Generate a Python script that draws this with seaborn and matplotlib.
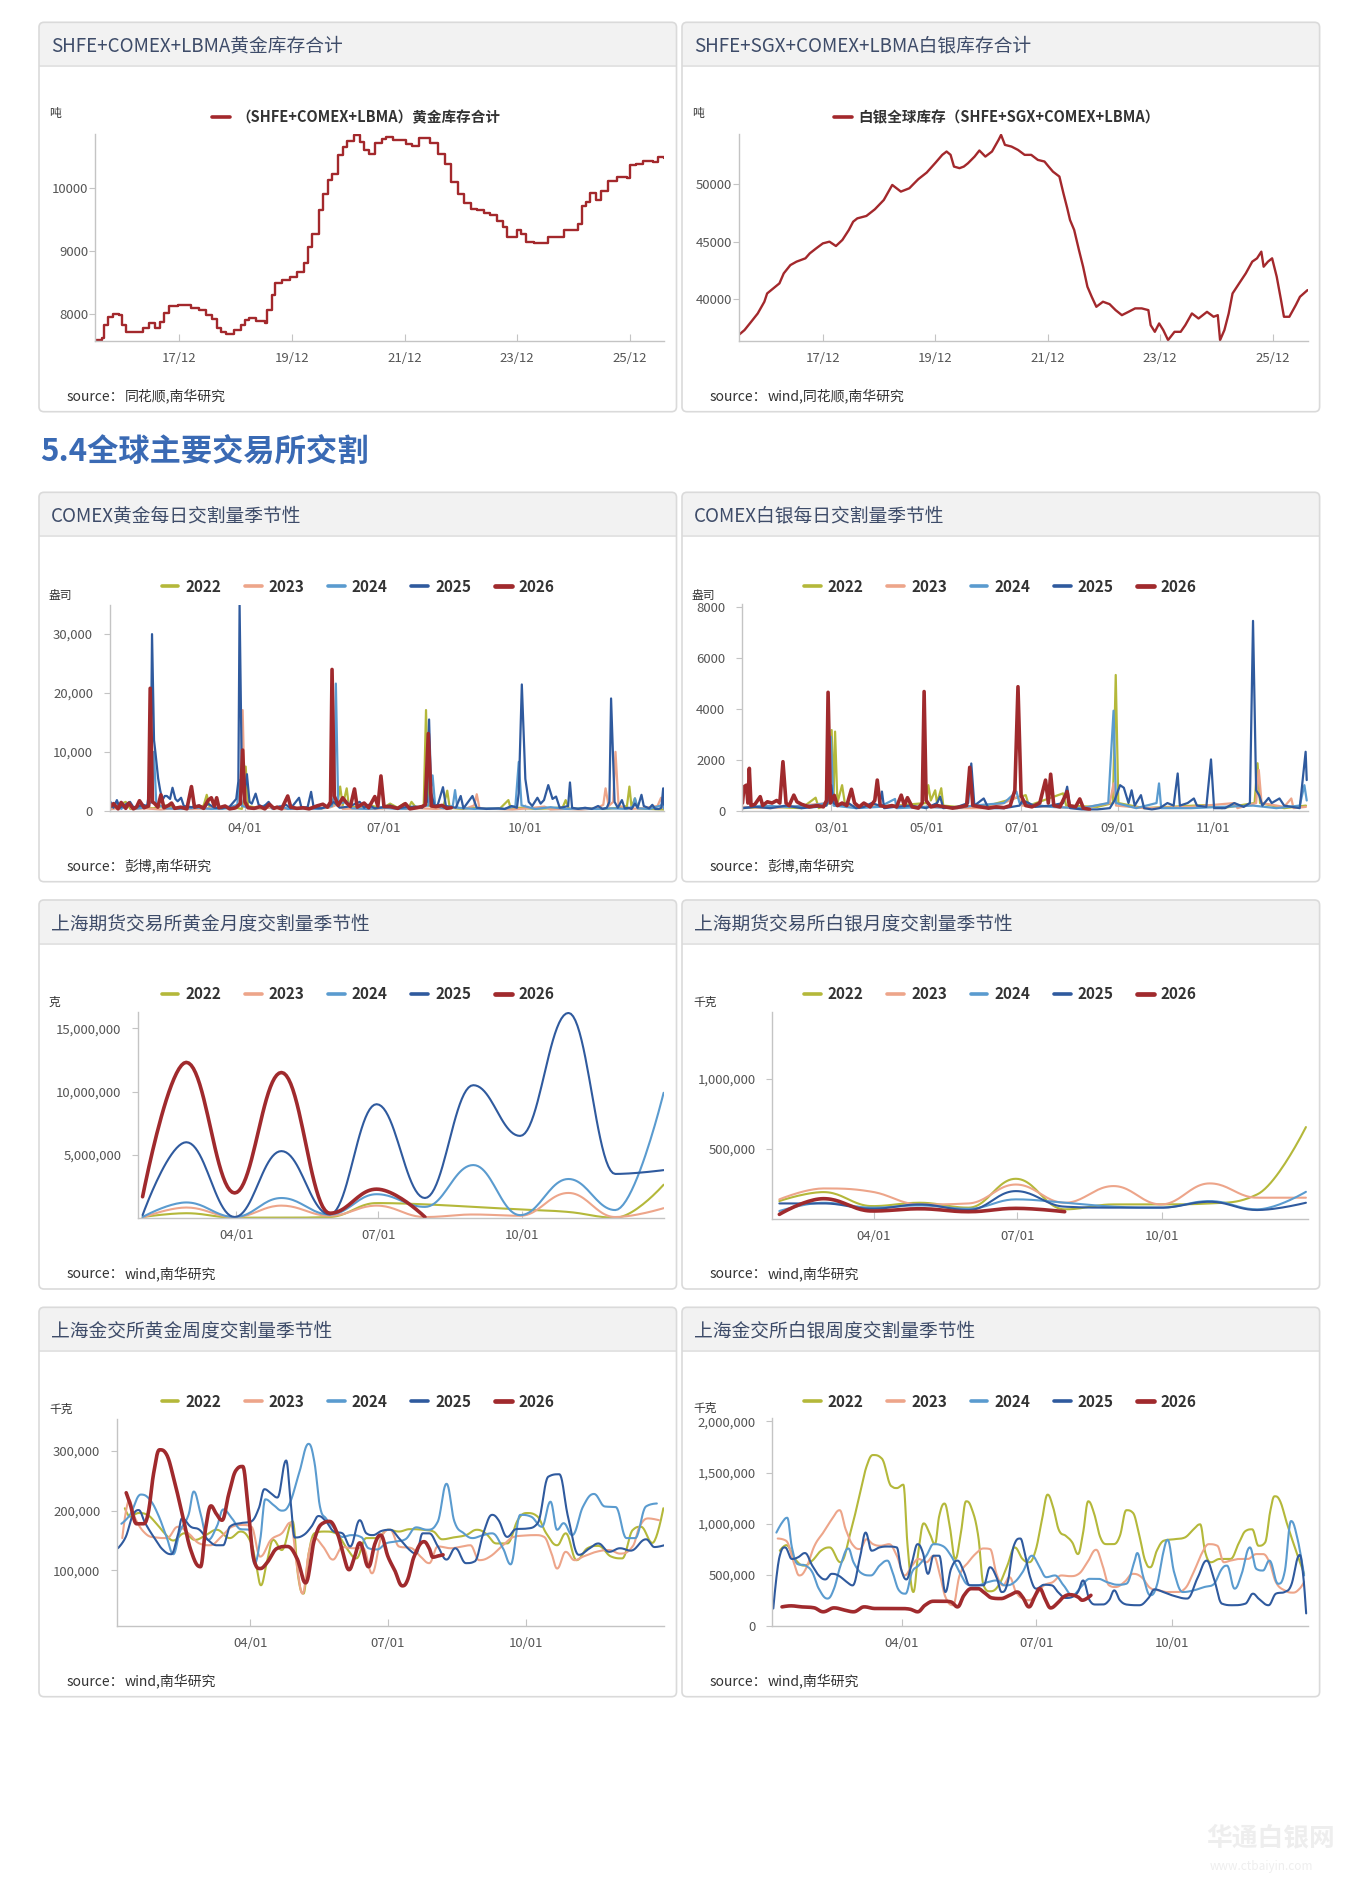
# Gold / silver inventory and exchange delivery seasonality dashboard

import numpy as np
import pandas as pd
import matplotlib
matplotlib.use("Agg")
import matplotlib.pyplot as plt
import matplotlib.dates as mdates
import seaborn as sns
from matplotlib.patches import FancyBboxPatch, Rectangle
from matplotlib.lines import Line2D
from matplotlib.text import Annotation
from matplotlib.ticker import FuncFormatter
from matplotlib.transforms import IdentityTransform


# ---------------- data ----------------

# SHFE+COMEX+LBMA gold stock (tonnes), weekly steps
gold_stock = [
    ("2016-06-06", 7580), ("2016-07-18", 7620), ("2016-08-01", 7820), ("2016-08-28", 7950),
    ("2016-09-26", 8000), ("2016-11-08", 7980), ("2016-11-27", 7820), ("2016-12-19", 7710),
    ("2017-02-15", 7710), ("2017-04-10", 7770), ("2017-05-22", 7850), ("2017-06-26", 7770),
    ("2017-08-01", 7870), ("2017-08-24", 8015), ("2017-09-27", 8120), ("2017-11-22", 8135),
    ("2018-02-15", 8085), ("2018-04-11", 8055), ("2018-05-23", 7980), ("2018-07-04", 7910),
    ("2018-08-02", 7770), ("2018-08-30", 7700), ("2018-10-03", 7670), ("2018-11-23", 7740),
    ("2019-01-05", 7820), ("2019-02-02", 7900), ("2019-03-01", 7925), ("2019-04-12", 7880),
    ("2019-06-13", 7855), ("2019-06-27", 8060), ("2019-07-25", 8295), ("2019-08-17", 8480),
    ("2019-09-29", 8530), ("2019-11-18", 8585), ("2020-01-05", 8665), ("2020-02-16", 8800),
    ("2020-03-15", 9060), ("2020-04-12", 9270), ("2020-05-24", 9640), ("2020-06-22", 9905),
    ("2020-07-20", 10115), ("2020-08-17", 10220), ("2020-09-24", 10510), ("2020-10-27", 10645),
    ("2020-11-25", 10740), ("2021-01-06", 10830), ("2021-02-17", 10720), ("2021-03-16", 10590),
    ("2021-04-13", 10540), ("2021-05-25", 10700), ("2021-07-06", 10775), ("2021-08-04", 10800),
    ("2021-09-16", 10760), ("2021-10-28", 10750), ("2021-12-09", 10685), ("2022-01-21", 10660),
    ("2022-03-02", 10790), ("2022-04-08", 10790), ("2022-05-12", 10700), ("2022-07-07", 10540),
    ("2022-08-19", 10380), ("2022-09-30", 10090), ("2022-11-12", 9905), ("2022-12-24", 9760),
    ("2023-02-05", 9665), ("2023-03-17", 9640), ("2023-04-29", 9590), ("2023-06-10", 9560),
    ("2023-07-22", 9470), ("2023-09-03", 9375), ("2023-09-25", 9210), ("2023-11-13", 9210),
    ("2023-11-27", 9325), ("2023-12-25", 9270), ("2024-01-28", 9140), ("2024-03-18", 9115),
    ("2024-05-13", 9115), ("2024-06-16", 9220), ("2024-09-18", 9220), ("2024-10-02", 9325),
    ("2024-11-28", 9325), ("2024-12-26", 9420), ("2025-01-23", 9705), ("2025-02-20", 9775),
    ("2025-03-19", 9915), ("2025-04-22", 9800), ("2025-05-28", 9945), ("2025-07-09", 10105),
    ("2025-09-05", 10170), ("2025-11-14", 10145), ("2025-11-28", 10355), ("2026-01-10", 10380),
    ("2026-02-21", 10420), ("2026-05-01", 10405), ("2026-05-29", 10485), ("2026-07-10", 10475),
]

# SHFE+SGX+COMEX+LBMA silver stock (tonnes)
silver_stock = [
    ("2016-06-01", 36860), ("2016-07-10", 37300), ("2016-08-22", 38020), ("2016-10-04", 38750),
    ("2016-11-16", 39770), ("2016-12-04", 40490), ("2017-02-22", 41370), ("2017-03-22", 42240),
    ("2017-05-04", 42960), ("2017-06-13", 43260), ("2017-08-10", 43550), ("2017-09-07", 43980),
    ("2017-10-19", 44420), ("2017-12-01", 44850), ("2018-01-13", 45000), ("2018-02-24", 44620),
    ("2018-04-07", 45150), ("2018-05-19", 46020), ("2018-06-16", 46740), ("2018-07-13", 47030),
    ("2018-09-10", 47240), ("2018-11-04", 47820), ("2019-01-01", 48630), ("2019-02-25", 49940),
    ("2019-04-22", 49360), ("2019-06-16", 49650), ("2019-08-13", 50440), ("2019-10-07", 51020),
    ("2019-12-04", 51890), ("2020-01-16", 52560), ("2020-02-13", 52850), ("2020-03-10", 52560),
    ("2020-04-01", 51540), ("2020-05-07", 51400), ("2020-06-04", 51540), ("2020-07-01", 51830),
    ("2020-08-13", 52410), ("2020-09-13", 52940), ("2020-10-22", 52410), ("2020-12-04", 52850),
    ("2021-01-16", 53870), ("2021-02-01", 54300), ("2021-02-26", 53430), ("2021-04-10", 53280),
    ("2021-05-22", 52990), ("2021-07-04", 52560), ("2021-08-16", 52560), ("2021-09-28", 52120),
    ("2021-11-10", 51980), ("2021-12-07", 51540), ("2022-01-04", 51100), ("2022-02-15", 50670),
    ("2022-03-13", 49220), ("2022-04-07", 47910), ("2022-04-25", 46890), ("2022-05-22", 46020),
    ("2022-06-22", 44270), ("2022-07-19", 42820), ("2022-08-16", 41080), ("2022-09-13", 40200),
    ("2022-10-13", 39330), ("2022-11-25", 39770), ("2023-01-07", 39560), ("2023-02-15", 39040),
    ("2023-03-28", 38600), ("2023-05-10", 38890), ("2023-06-22", 39190), ("2023-08-04", 39190),
    ("2023-09-16", 39040), ("2023-10-01", 37730), ("2023-10-28", 37150), ("2023-11-25", 37880),
    ("2023-12-22", 37300), ("2024-01-22", 36430), ("2024-03-04", 37150), ("2024-04-13", 37150),
    ("2024-05-13", 37730), ("2024-06-25", 38750), ("2024-08-07", 38310), ("2024-10-01", 38890),
    ("2024-11-13", 38460), ("2024-12-10", 38600), ("2024-12-25", 36430), ("2025-01-22", 37300),
    ("2025-02-19", 38750), ("2025-03-16", 40490), ("2025-04-28", 41370), ("2025-06-10", 42240),
    ("2025-07-22", 43260), ("2025-08-22", 43550), ("2025-09-19", 44130), ("2025-10-04", 42820),
    ("2025-11-01", 43260), ("2025-11-28", 43550), ("2025-12-28", 41950), ("2026-01-25", 39910),
    ("2026-02-13", 38460), ("2026-03-20", 38460), ("2026-05-01", 39480), ("2026-05-28", 40200),
    ("2026-07-16", 40780),
]

years = ["2022", "2023", "2024", "2025", "2026"]

# COMEX gold daily deliveries (day of year, contracts)
comex_gold_2022 = [(1, 300), (6, 800), (12, 1500), (15, 300), (22, 600), (30, 400), (38, 900), (45, 300),
                   (52, 600), (60, 500), (63, 900), (65, 2700), (67, 500), (75, 400), (82, 600), (88, 300),
                   (89.5, 2000), (90.5, 7500), (92, 800), (100, 400), (110, 600), (120, 300), (130, 500),
                   (140, 400), (148, 800), (151, 2000), (152.3, 4100), (154, 900), (156.6, 3800), (158, 800),
                   (165, 500), (172, 900), (180, 400), (185, 1200), (190, 500), (194, 1200), (197, 400),
                   (199, 1500), (202, 500), (207, 900), (208.5, 17100), (210, 900), (215, 500), (220, 800),
                   (222.4, 3400), (224, 500), (232, 300), (240, 500), (250, 300), (257, 400), (262.4, 1800),
                   (264, 300), (270, 500), (280, 300), (290, 400), (298, 600), (299.9, 1800), (302, 300),
                   (315, 400), (325, 300), (335, 500), (340, 800), (341.6, 4100), (343, 600), (345.2, 2100),
                   (347, 400), (355, 300), (364, 200)]
comex_gold_2023 = [(1, 200), (8, 500), (14, 1300), (16, 300), (25, 400), (35, 200), (45, 500), (55, 300),
                   (65, 400), (75, 600), (83, 300), (87, 1500), (88.5, 17100), (90, 800), (95, 300), (105, 500),
                   (115, 300), (125, 400), (135, 300), (145, 500), (152, 1200), (154, 300), (165, 400),
                   (175, 300), (185, 500), (195, 300), (205, 400), (215, 300), (225, 500), (235, 400),
                   (240, 900), (241.7, 2800), (243.5, 400), (255, 300), (265, 200), (275, 400), (286, 700),
                   (290, 200), (300, 300), (310, 200), (320, 400), (324.5, 1000), (326, 3800), (328, 800),
                   (331, 1500), (332.5, 10000), (334.5, 900), (340, 300), (350, 400), (360, 800),
                   (362.3, 2200), (364, 400)]
comex_gold_2024 = [(1, 300), (6, 1500), (9, 300), (14, 1200), (17, 300), (24, 500), (29, 1500), (30.4, 10000),
                   (32, 1200), (38, 400), (48, 300), (58, 500), (68, 300), (78, 400), (85, 1000), (86.2, 5200),
                   (88, 800), (96, 300), (105.5, 1100), (108, 300), (113, 800), (118, 300), (128, 400),
                   (138, 300), (147, 800), (148.5, 3000), (149.5, 21600), (151, 1200), (157, 1500), (160, 400),
                   (170, 300), (180, 500), (190, 300), (200, 400), (210, 900), (212.8, 6000), (214.5, 800),
                   (220, 400), (226, 800), (227.5, 3500), (229, 500), (240, 300), (250, 400), (260, 300),
                   (267, 800), (269.2, 8300), (271, 900), (280, 300), (290, 600), (300, 300), (310, 400),
                   (320, 300), (330, 400), (340, 300), (344, 700), (345.2, 2100), (347, 400), (355, 300),
                   (363.5, 1000), (364.5, 300)]
comex_gold_2025 = [(1, 800), (2, 1500), (4, 500), (6.2, 1800), (8, 500), (11, 900), (14.8, 1500), (17, 600),
                   (20, 700), (23.3, 1000), (26, 800), (28.3, 5000), (29.2, 30000), (30.5, 12000),
                   (31.5, 9700), (33.2, 5500), (34.5, 3500), (36, 1800), (37.5, 2500), (38.9, 2500),
                   (41, 2000), (42.6, 3900), (44.5, 2000), (46, 1600), (48.2, 2200), (50, 800), (55, 600),
                   (60.1, 900), (63, 400), (65.8, 1200), (70, 500), (75, 400), (80, 700), (84.3, 2000),
                   (85.7, 5000), (86.5, 34900), (88, 5000), (89.5, 2500), (91.3, 6200), (93, 1500),
                   (94.5, 1200), (97, 2900), (99, 1000), (102, 600), (105.5, 1500), (108, 500), (111.2, 500),
                   (114, 700), (116.9, 1000), (120, 400), (125.4, 2200), (127, 500), (131, 600),
                   (133.3, 3200), (135, 500), (140, 400), (145.2, 800), (148.1, 1500), (152, 500), (158, 700),
                   (165.1, 1500), (168, 500), (170.8, 1000), (175, 400), (180, 600), (185, 900), (190, 400),
                   (195, 600), (202, 700), (206, 500), (209.1, 1500), (210.5, 15500), (211.9, 3000),
                   (214, 800), (216.2, 1000), (219.6, 4000), (221.5, 800), (228, 500), (231.2, 2500),
                   (233, 400), (238.9, 2500), (241.7, 500), (248, 300), (255.9, 400), (260, 300),
                   (264.4, 800), (268, 500), (269.2, 3000), (271.2, 21450), (273.5, 5400), (275.7, 1500),
                   (278, 800), (281.4, 2200), (283.5, 1200), (285.7, 1800), (288.5, 4350), (291.3, 2000),
                   (293.6, 2400), (296, 500), (298.4, 600), (301.5, 800), (302.7, 4800), (304.1, 500),
                   (308, 300), (312.6, 500), (317, 300), (321.1, 800), (324, 300), (326.8, 500),
                   (328.5, 1500), (329.6, 19070), (331.9, 1500), (334, 500), (336.7, 1800), (338.5, 400),
                   (341, 500), (343, 300), (345.2, 1200), (347, 500), (349.5, 2700), (351, 800),
                   (354.5, 400), (356.6, 1000), (358.5, 300), (360.9, 300), (362.5, 500), (363.7, 3800),
                   (364.3, 1000)]
comex_gold_2026 = [(1, 500), (4, 1200), (7, 300), (9, 1400), (12, 400), (14, 1300), (17, 300), (19, 600),
                   (21, 1700), (24, 500), (26, 700), (27, 800), (28, 20800), (29.5, 1500), (31, 1200),
                   (33, 600), (35, 2700), (37, 500), (40, 900), (42, 1300), (44, 400), (48, 600), (52, 300),
                   (55, 4100), (57, 600), (60, 800), (63, 400), (66, 1800), (68, 2200), (70, 800),
                   (71.5, 2200), (73, 500), (77, 800), (80, 300), (84, 500), (87, 1200), (88.5, 10300),
                   (90, 1500), (92, 500), (96, 400), (100, 700), (103, 300), (106, 1100), (109, 400),
                   (111, 600), (114, 300), (118, 2500), (120, 600), (124, 400), (128, 500), (132, 300),
                   (137, 800), (141, 1100), (144, 600), (146, 1500), (147, 24000), (148.5, 2500), (151, 900),
                   (154, 2200), (156.6, 1300), (159, 700), (161.7, 3700), (163.5, 600), (166, 1000),
                   (168, 1300), (171, 500), (175, 2400), (177, 800), (179, 5900), (181, 700), (185, 700),
                   (190, 400), (195, 1200), (198, 300), (202, 500), (206, 700), (208, 1000), (210, 13100),
                   (212, 800), (215, 700), (219, 900), (222, 400), (225, 500)]

# COMEX silver daily deliveries (day of year, contracts)
comex_silver_2022 = [(2, 100), (20, 150), (40, 100), (49, 510), (51, 100), (58, 300), (59.3, 3160), (60.5, 400),
                     (61.5, 3100), (63, 300), (66, 1000), (68, 200), (80, 150), (100, 200), (120, 300),
                     (121.4, 1000), (123, 400), (125.8, 800), (127, 300), (129.7, 880), (131, 200), (140, 150),
                     (160, 200), (184, 610), (186, 200), (208, 680), (210, 200), (230, 150), (240, 300),
                     (241.8, 5320), (243.5, 300), (260, 100), (299, 220), (310, 100), (331, 300),
                     (332.9, 1860), (334.5, 300), (350, 100), (364, 200)]
comex_silver_2023 = [(2, 150), (20, 100), (40, 200), (57, 300), (59, 1000), (61, 200), (80, 150), (100, 200),
                     (120, 150), (140, 100), (157, 100), (170, 300), (179, 550), (182, 200), (200, 150),
                     (220, 100), (238, 300), (240.4, 1070), (242, 200), (260, 100), (290, 150), (318, 300),
                     (320, 100), (332, 300), (333.7, 1600), (335.5, 300), (350, 150), (354.6, 480),
                     (356, 100), (364, 150)]
comex_silver_2024 = [(2, 100), (15, 200), (30, 150), (45, 200), (57, 300), (58.8, 2900), (60.5, 200), (75, 100),
                     (90, 150), (100, 460), (101, 100), (120, 150), (140, 100), (150, 200), (170, 300),
                     (178, 750), (180, 300), (200, 150), (220, 100), (237, 300), (240.4, 3920), (242, 300),
                     (255, 100), (268, 300), (269.6, 1070), (271, 100), (290, 100), (310, 150), (330, 200),
                     (345, 100), (360, 200), (363, 1000), (364.5, 400)]
comex_silver_2025 = [(2, 100), (10, 150), (20, 100), (30, 200), (40, 100), (50, 150), (56, 200), (58, 900),
                     (59, 1000), (60.5, 300), (63, 200), (70, 300), (75, 100), (80, 150), (85, 300), (90, 200),
                     (91.6, 750), (93, 100), (100, 150), (110, 200), (120, 100), (127, 300), (129, 550),
                     (131, 100), (140, 150), (147, 300), (149, 1850), (151, 200), (157, 480), (160, 100),
                     (170, 100), (180, 200), (182, 400), (186, 300), (190, 150), (200, 200), (208, 300),
                     (210.6, 940), (212.5, 100), (220, 50), (230, 50), (238, 100), (241, 400), (244.6, 1000),
                     (247, 900), (250, 300), (252, 800), (254, 200), (258, 610), (260, 100), (265, 50),
                     (270, 100), (275, 300), (279, 200), (281.6, 1460), (283, 200), (288, 300), (292, 480),
                     (294, 200), (300, 150), (303, 2010), (305, 100), (312, 100), (318, 300), (324, 150),
                     (328, 300), (330, 7440), (332, 800), (334, 600), (336, 200), (340, 500), (342, 300),
                     (347, 480), (350, 200), (355, 150), (360, 100), (363.8, 2310), (364.5, 1200)]
comex_silver_2026 = [(2, 300), (3, 940), (4.5, 1000), (5.5, 300), (6.4, 1660), (7.5, 200), (10, 250),
                     (13.4, 550), (15, 200), (18, 350), (21, 300), (24, 400), (26, 300), (28, 1920), (30, 300),
                     (32, 200), (35, 610), (37, 350), (40, 250), (45, 150), (50, 200), (54, 150), (56, 400),
                     (57, 4640), (58.5, 300), (61, 600), (63, 200), (66, 300), (69, 200), (72, 840), (74, 300),
                     (77, 150), (80, 300), (84, 150), (87, 400), (88.6, 1200), (90.5, 200), (94, 150),
                     (98, 200), (101, 150), (104, 610), (106, 200), (108, 510), (111, 150), (115, 100),
                     (117.5, 300), (118.7, 4670), (120, 400), (123, 150), (127, 200), (132, 150), (137, 100),
                     (142, 150), (146, 200), (148, 1700), (150, 200), (155, 150), (160, 100), (165, 150),
                     (170, 120), (174, 200), (177, 800), (179, 4860), (181, 600), (184, 200), (188, 150),
                     (193, 300), (196.7, 1200), (198.5, 300), (200, 1430), (202, 200), (206, 150),
                     (210.6, 750), (212, 200), (216, 150), (218.7, 460), (221, 100), (225, 50)]

# SHFE monthly deliveries, month-end day of year
month_days = [30, 58, 89, 119, 150, 180, 211, 242, 272, 303, 333, 364]
shfe_gold_2022 = [100000, 400000, 50000, 50000, 100000, 1200000, 1100000, 900000, 700000, 500000, 50000, 2650000]
shfe_gold_2023 = [50000, 850000, 100000, 1000000, 200000, 1000000, 100000, 300000, 200000, 2000000, 100000, 800000]
shfe_gold_2024 = [100000, 1250000, 100000, 1600000, 300000, 1900000, 900000, 4200000, 250000, 3100000, 650000, 9900000]
shfe_gold_2025 = [250000, 6000000, 100000, 5300000, 300000, 9000000, 1600000, 10500000, 6500000, 16200000, 3500000, 3800000]
shfe_gold_2026 = [1700000, 12300000, 2000000, 11500000, 400000, 2300000, 100000]

shfe_silver_2022 = [128000, 192000, 92000, 116000, 81000, 287000, 69000, 104000, 104000, 111000, 175000, 656000]
shfe_silver_2023 = [140000, 218000, 194000, 104000, 111000, 246000, 116000, 235000, 104000, 254000, 152000, 152000]
shfe_silver_2024 = [57000, 116000, 81000, 97000, 73000, 140000, 116000, 88000, 81000, 128000, 69000, 194000]
shfe_silver_2025 = [111000, 111000, 73000, 104000, 64000, 199000, 88000, 81000, 81000, 123000, 64000, 116000]
shfe_silver_2026 = [33000, 145000, 57000, 73000, 52000, 76000, 52000]

# SGE weekly deliveries (day of year, kg)
sge_gold_2022 = [(6.9, 204000), (10.3, 190000), (16, 196000), (21.8, 193000), (27.6, 179000), (33.3, 162000),
                 (39, 150000), (46.3, 162000), (53.4, 151000), (60.6, 159000), (67.8, 168000), (76.4, 154000),
                 (83.6, 165000), (90.8, 145000), (93.7, 112000), (97.1, 75000), (100.9, 112000),
                 (105.2, 151000), (110.9, 134000), (118.1, 182000), (121.8, 89000), (125.3, 61000),
                 (128.7, 128000), (132.5, 162000), (139.7, 165000), (146.8, 162000), (154, 137000),
                 (160.3, 120000), (166.9, 154000), (174.1, 154000), (181.3, 168000), (188.5, 165000),
                 (195.7, 169000), (204.3, 168000), (211.5, 165000), (217.2, 152000), (224.4, 155000),
                 (233, 159000), (240.2, 168000), (246, 162000), (253.2, 145000), (260.3, 145000),
                 (267.5, 185000), (273.3, 196000), (280.5, 190000), (286.2, 162000), (293.4, 142000),
                 (299.1, 162000), (306.3, 117000), (313.5, 137000), (320.7, 141000), (329.3, 123000),
                 (336.5, 120000), (343.7, 168000), (348.9, 173000), (356.6, 146000), (363.8, 204000)]
sge_gold_2023 = [(5.2, 154000), (9.8, 218000), (13.2, 190000), (20.4, 162000), (27.6, 155000), (34.8, 154000),
                 (42, 173000), (49.1, 162000), (56.3, 145000), (63.5, 142000), (70.7, 156000), (77.9, 173000),
                 (85, 176000), (90.8, 173000), (96.6, 123000), (103.7, 151000), (110.9, 162000),
                 (116.7, 180000), (121, 106000), (124.7, 61000), (128.7, 128000), (132.5, 154000),
                 (138.2, 140000), (144.8, 118000), (151.1, 139000), (158.3, 137000), (164.9, 137000),
                 (170.7, 95000), (177, 156000), (182.8, 168000), (188.5, 140000), (197.1, 137000),
                 (202.9, 123000), (208.6, 112000), (214.4, 140000), (223, 137000), (230.2, 140000),
                 (235.9, 142000), (241.7, 117000), (248.9, 123000), (257.5, 142000), (264.7, 156000),
                 (270.4, 158000), (279, 159000), (284.8, 156000), (289.7, 128000), (293.4, 103000),
                 (299.1, 131000), (304.9, 117000), (310.6, 123000), (319.3, 131000), (327.9, 134000),
                 (335.1, 128000), (343.7, 141000), (348, 173000), (353.7, 187000), (360.9, 184000)]
sge_gold_2024 = [(4.6, 178000), (10.3, 193000), (17.5, 227000), (23.3, 219000), (29, 193000), (34.8, 154000),
                 (39, 127000), (43.4, 165000), (49.1, 193000), (52.6, 232000), (57, 196000), (62, 151000),
                 (67.8, 173000), (72.1, 202000), (77.9, 187000), (83.6, 169000), (89.4, 168000),
                 (92.8, 111000), (96.6, 151000), (100, 219000), (105.2, 210000), (111, 200000),
                 (116.1, 212000), (122.4, 263000), (128.7, 312000), (132.5, 282000), (136.2, 207000),
                 (140.2, 187000), (145.4, 172000), (151.1, 156000), (156.9, 159000), (164, 155000),
                 (168.4, 137000), (174.1, 135000), (179.9, 145000), (185.6, 148000), (192.8, 152000),
                 (200, 172000), (207.2, 168000), (214.4, 182000), (220.1, 245000), (225.3, 182000),
                 (231.6, 162000), (237.4, 154000), (243.1, 158000), (250.3, 162000), (257.5, 137000),
                 (262.6, 110000), (269, 193000), (276.1, 190000), (283.3, 173000), (289, 215000),
                 (293.4, 168000), (297.7, 179000), (303.4, 159000), (310.6, 207000), (317.8, 228000),
                 (325, 207000), (332.2, 206000), (339.4, 154000), (345.1, 154000), (352.3, 207000),
                 (359.5, 212000)]
sge_gold_2025 = [(2.3, 137000), (7.5, 156000), (11.8, 190000), (16, 201000), (20.4, 179000), (26, 156000),
                 (31.9, 135000), (37.6, 127000), (42, 159000), (44.8, 187000), (50.6, 173000), (56.3, 168000),
                 (62, 151000), (67.8, 142000), (72, 142000), (76.4, 173000), (83.6, 179000), (90.8, 182000),
                 (95.7, 204000), (99.4, 236000), (103.7, 229000), (108, 222000), (113.8, 284000),
                 (116.7, 218000), (119.5, 155000), (125.3, 159000), (130.5, 173000), (135.3, 191000),
                 (140.2, 182000), (145.4, 165000), (151.1, 162000), (156.3, 140000), (162.6, 184000),
                 (167, 162000), (171.3, 159000), (177, 166000), (182.8, 168000), (188.5, 154000),
                 (195.7, 134000), (200, 128000), (204.3, 162000), (208.6, 162000), (214.4, 140000),
                 (220.1, 118000), (225.9, 137000), (233, 112000), (238.8, 115000), (244.5, 162000),
                 (250.3, 193000), (254.6, 184000), (260.3, 156000), (266.1, 169000), (273.3, 170000),
                 (280.5, 179000), (287.6, 257000), (294.8, 261000), (300.6, 190000), (307.8, 126000),
                 (315, 137000), (320.7, 145000), (327.9, 131000), (335.1, 137000), (342.2, 133000),
                 (352.3, 152000), (358, 139000), (364.4, 142000)]
sge_gold_2026 = [(7.8, 230000), (10.3, 212000), (14.7, 178000), (19, 178000), (22.4, 196000), (26, 263000),
                 (29.9, 302000), (34.8, 293000), (39, 257000), (44.8, 196000), (50.6, 134000), (57, 106000),
                 (60.6, 173000), (64, 208000), (67.2, 196000), (71.3, 184000), (75.9, 229000), (80.7, 268000),
                 (85, 274000), (88.5, 207000), (92.2, 120000), (96.6, 103000), (100.9, 112000), (108, 137000),
                 (114.4, 140000), (121, 120000), (126.7, 79000), (132.5, 151000), (138.2, 179000),
                 (142.5, 182000), (147.7, 162000), (151, 134000), (155.5, 101000), (159.2, 123000),
                 (162.6, 146000), (168.4, 106000), (172.7, 145000), (176.4, 159000), (181.3, 123000),
                 (185.6, 101000), (190.8, 74000), (194.3, 84000), (198.6, 123000), (205.2, 148000),
                 (208.6, 137000), (211, 122000), (214.4, 124000), (217.8, 126000)]

sge_silver_2022 = [(7.3, 736000), (11.7, 790000), (17.6, 655000), (23.5, 590000), (29.3, 639000), (35.2, 736000),
                   (41, 768000), (48.4, 623000), (55.7, 945000), (61.6, 1300000), (66, 1558000), (70.4, 1671000),
                   (76.2, 1639000), (83, 1365000), (86.5, 1348000), (90.9, 1381000), (93.8, 784000),
                   (97.7, 332000), (101.2, 736000), (104.7, 1003000), (108.5, 913000), (112.3, 800000),
                   (115.2, 1074000), (118.8, 1197000), (122.3, 977000), (126.1, 655000), (129.9, 913000),
                   (133.4, 1219000), (137, 1155000), (141.6, 881000), (145.2, 397000), (149.6, 339000),
                   (155.4, 397000), (161.3, 590000), (166.3, 768000), (171.6, 655000), (176, 623000),
                   (180.4, 736000), (184.8, 1042000), (188.6, 1284000), (192.1, 1171000), (196.5, 929000),
                   (200.9, 881000), (205.3, 816000), (209.1, 703000), (212.6, 913000), (216.1, 1219000),
                   (219.9, 1107000), (224.3, 865000), (228.7, 800000), (233.1, 800000), (237.5, 881000),
                   (241.9, 1132000), (246.3, 1107000), (250.7, 881000), (255.1, 623000), (258.1, 574000),
                   (262.5, 736000), (266.9, 832000), (274.2, 848000), (281.5, 865000), (287.4, 945000),
                   (291.8, 994000), (295.3, 719000), (299.1, 623000), (305, 655000), (312.3, 655000),
                   (318.2, 816000), (322.6, 929000), (327, 945000), (331.4, 784000), (335.8, 816000),
                   (339.3, 1123000), (342.2, 1268000), (346, 1219000), (350.4, 1010000), (356.3, 752000),
                   (362.2, 510000)]
sge_silver_2023 = [(5.9, 855000), (11.7, 832000), (16.7, 623000), (20.5, 494000), (24.9, 558000), (30.8, 784000),
                   (36.7, 913000), (42.5, 1042000), (47.8, 1132000), (51.9, 945000), (57.2, 784000),
                   (61.6, 752000), (66, 848000), (70.4, 800000), (75.4, 784000), (81.2, 800000), (86.5, 687000),
                   (91.8, 494000), (96.8, 590000), (101.2, 655000), (106.5, 623000), (111.4, 687000),
                   (115.8, 494000), (119.4, 284000), (124.6, 203000), (129, 494000), (134.9, 623000),
                   (140.8, 719000), (145.2, 758000), (149.6, 752000), (154, 510000), (158.4, 397000),
                   (162.8, 477000), (167.2, 332000), (171.6, 268000), (176, 252000), (180.4, 300000),
                   (186.2, 397000), (192.1, 429000), (197.9, 494000), (203.8, 487000), (209.7, 510000),
                   (215.5, 623000), (221.4, 745000), (225.8, 590000), (230.2, 397000), (234.6, 381000),
                   (240.5, 429000), (246.3, 510000), (252.2, 477000), (258.1, 371000), (263.9, 348000),
                   (269.8, 332000), (275.7, 332000), (281.5, 365000), (287.4, 526000), (293.3, 719000),
                   (297.7, 800000), (303.5, 784000), (307.9, 623000), (312.3, 639000), (318.2, 655000),
                   (324, 655000), (329.9, 703000), (334.3, 703000), (338.7, 623000), (343.1, 429000),
                   (349, 348000), (354.8, 326000), (359.2, 365000), (362.2, 429000)]
sge_silver_2024 = [(5, 913000), (8.8, 1010000), (12.3, 1058000), (15.5, 768000), (19.1, 607000), (24.9, 590000),
                   (29.3, 526000), (33.7, 365000), (39.6, 268000), (44, 365000), (48.4, 590000), (53.7, 758000),
                   (57.2, 623000), (61.6, 526000), (68.9, 494000), (74.8, 590000), (80.1, 639000),
                   (83.6, 526000), (88, 348000), (92.4, 316000), (96.8, 526000), (101.2, 590000),
                   (106.5, 687000), (111.4, 800000), (117.3, 784000), (123.2, 687000), (129, 526000),
                   (134.9, 403000), (140.8, 397000), (148.1, 429000), (154, 445000), (159.8, 397000),
                   (165.7, 423000), (171.6, 526000), (178, 687000), (182.7, 590000), (187.7, 477000),
                   (193.5, 494000), (199.4, 397000), (205.3, 300000), (211.1, 381000), (217, 461000),
                   (222.9, 461000), (228.7, 429000), (236.1, 403000), (241.9, 413000), (247.2, 623000),
                   (249.3, 713000), (253.1, 494000), (258.1, 300000), (262.5, 397000), (266.9, 719000),
                   (269.8, 842000), (274.2, 526000), (280.1, 332000), (287.4, 348000), (294.7, 381000),
                   (300.6, 403000), (306.5, 558000), (310, 590000), (315.2, 365000), (319.6, 494000),
                   (325.5, 768000), (329.9, 558000), (334.3, 542000), (338.7, 639000), (344.6, 413000),
                   (349, 526000), (353.4, 1026000), (357.8, 848000), (362.2, 494000)]
sge_silver_2025 = [(2.9, 171000), (7.3, 687000), (10.9, 768000), (15.5, 655000), (19.6, 671000), (24.3, 713000),
                   (29.3, 590000), (33.7, 494000), (38.1, 455000), (42.5, 510000), (46.9, 494000),
                   (52.8, 429000), (56.6, 397000), (61.6, 671000), (65.4, 913000), (69.5, 736000),
                   (74.8, 768000), (80.6, 777000), (86.5, 768000), (89.4, 558000), (93, 455000), (96.8, 623000),
                   (100.6, 800000), (104.1, 719000), (107.6, 510000), (111.4, 687000), (115.2, 687000),
                   (119.4, 332000), (123.2, 558000), (127.6, 639000), (132, 526000), (135.8, 397000),
                   (140.8, 397000), (145.2, 397000), (149.6, 574000), (154, 477000), (157.5, 332000),
                   (161.3, 413000), (165.7, 784000), (170.1, 855000), (173, 719000), (176.8, 477000),
                   (180.9, 365000), (186.2, 403000), (191.5, 397000), (195.6, 332000), (200.9, 274000),
                   (205.3, 284000), (209.1, 332000), (212.6, 445000), (217, 252000), (221.4, 210000),
                   (225.8, 210000), (230.2, 252000), (233.7, 348000), (237.5, 252000), (241.9, 210000),
                   (250.7, 203000), (256.6, 268000), (261, 358000), (266.9, 332000), (274.2, 294000),
                   (283, 268000), (290.3, 477000), (296.2, 639000), (301.2, 461000), (306.5, 219000),
                   (313.8, 203000), (322.6, 219000), (327.6, 316000), (331.4, 268000), (338.1, 203000),
                   (343.1, 316000), (349, 332000), (353.4, 397000), (359.2, 694000), (361.6, 494000),
                   (363.6, 123000)]
sge_silver_2026 = [(8.8, 187000), (14.7, 197000), (22, 187000), (30.8, 177000), (36.7, 139000), (44, 177000),
                   (51.3, 155000), (57.2, 139000), (64.5, 187000), (71.8, 171000), (79.2, 171000), (88, 171000),
                   (95.3, 165000), (100.6, 139000), (105.6, 203000), (111.4, 242000), (118.8, 242000),
                   (123.2, 235000), (127.6, 187000), (132, 300000), (137, 365000), (141.6, 365000),
                   (145.2, 332000), (151, 274000), (156.9, 268000), (162.8, 300000), (168, 332000),
                   (171.6, 284000), (176, 187000), (179.8, 284000), (183.3, 365000), (186.8, 268000),
                   (190.6, 177000), (195, 219000), (199.4, 284000), (203.8, 306000), (209.1, 284000),
                   (212, 252000), (215, 268000), (217.9, 300000)]


# ---------------- style ----------------

sns.set_theme(style="white")
plt.rcParams["font.family"] = ["Noto Sans CJK SC", "DejaVu Sans"]
plt.rcParams["axes.unicode_minus"] = False

INV_RED = "#a3282c"
year_colors = ["#b4b83a", "#eda58a", "#5a9bcf", "#2f5a9e", "#a02a2d"]
TITLE_C = "#3e4c69"
TICK_C = "#c4c4c4"

W, H = 1360, 1894
fig = plt.figure(figsize=(W / 100, H / 100), dpi=100)
fig.patch.set_facecolor("white")
PIX = IdentityTransform()


def fx(px):
    return px / W


def fy(py):
    return 1 - py / H


def add_axes(l, t, r, b):
    ax = fig.add_axes([fx(l), fy(b), (r - l) / W, (b - t) / H])
    ax.patch.set_alpha(0)
    return ax


def draw_box(x0, y0, x1, y1, title, src_b):
    hdr = 44
    fig.add_artist(FancyBboxPatch((x0, H - y1), x1 - x0, y1 - y0, boxstyle="round,pad=0,rounding_size=5",
                                  fc="white", ec="none", transform=PIX, zorder=-5))
    fig.add_artist(FancyBboxPatch((x0, H - y0 - hdr), x1 - x0, hdr, boxstyle="round,pad=0,rounding_size=5",
                                  fc="#f2f2f2", ec="none", transform=PIX, zorder=-4))
    fig.add_artist(Rectangle((x0, H - y0 - hdr), x1 - x0, hdr / 2, fc="#f2f2f2", ec="none",
                             transform=PIX, zorder=-4))
    fig.add_artist(Rectangle((x0, H - y0 - hdr - 1), x1 - x0, 2, fc="#e3e3e3", ec="none",
                             transform=PIX, zorder=-3))
    fig.add_artist(FancyBboxPatch((x0, H - y1), x1 - x0, y1 - y0, boxstyle="round,pad=0,rounding_size=5",
                                  fc="none", ec="#dadada", lw=1.2, transform=PIX, zorder=-2))
    fig.text(fx(x0 + 12), fy(y0 + 24), title, fontsize=13.5, color=TITLE_C, va="center", ha="left")
    t = fig.text(fx(x0 + 28), fy(y1 - 15), "source：", fontsize=10, color="#333333", va="center", ha="left")
    fig.add_artist(Annotation(src_b, xy=(1, 0), xycoords=t, va="bottom", ha="left", fontsize=10,
                              color="#333333", fontstyle="italic"))


def unit(x, y, s):
    fig.text(fx(x), fy(y), s, fontsize=8.5, color="#333333", va="center", ha="left")


def style_axes(ax, ypad):
    sns.despine(ax=ax)
    for s in ("left", "bottom"):
        ax.spines[s].set_color(TICK_C)
        ax.spines[s].set_linewidth(1.0)
    ax.grid(False)
    ax.tick_params(axis="y", direction="out", length=4, width=0.8, color=TICK_C, pad=ypad,
                   labelsize=9.5, labelcolor="#555555", left=True)
    ax.tick_params(axis="x", direction="in", length=5, width=0.8, color=TICK_C, pad=8,
                   labelsize=9.5, labelcolor="#555555", bottom=True)
    ax.set_xlabel("")
    ax.set_ylabel("")


def year_legend(cx, cy):
    handles = [Line2D([], [], color=c, lw=(3.4 if y == "2026" else 2.6)) for y, c in zip(years, year_colors)]
    fig.legend(handles, years, loc="center", bbox_to_anchor=(fx(cx), fy(cy)), ncol=5, frameon=False,
               prop={"weight": "bold", "size": 11}, handlelength=1.1, handletextpad=0.45,
               columnspacing=1.55, borderpad=0, borderaxespad=0, labelcolor="#333333")


def single_legend(cx, cy, label):
    fig.legend([Line2D([], [], color=INV_RED, lw=2.6)], [label], loc="center",
               bbox_to_anchor=(fx(cx), fy(cy)), frameon=False, prop={"weight": "bold", "size": 10.5},
               handlelength=1.25, handletextpad=0.4, borderpad=0, borderaxespad=0, labelcolor="#333333")


def hc_spline(xs, ys, n=24):
    # Highcharts-style spline: bezier with control points clamped at local extremes
    xs = np.asarray(xs, dtype=float)
    ys = np.asarray(ys, dtype=float)
    N = len(xs)
    lc = np.column_stack([xs, ys])
    rc = np.column_stack([xs, ys])
    for i in range(1, N - 1):
        x, y = xs[i], ys[i]
        px, py, nx, ny = xs[i - 1], ys[i - 1], xs[i + 1], ys[i + 1]
        lcx, lcy = (1.5 * x + px) / 2.5, (1.5 * y + py) / 2.5
        rcx, rcy = (1.5 * x + nx) / 2.5, (1.5 * y + ny) / 2.5
        if rcx != lcx:
            corr = ((rcy - lcy) * (rcx - x)) / (rcx - lcx) + y - rcy
            lcy += corr
            rcy += corr
        if lcy > py and lcy > y:
            lcy = max(py, y)
            rcy = 2 * y - lcy
        elif lcy < py and lcy < y:
            lcy = min(py, y)
            rcy = 2 * y - lcy
        if rcy > ny and rcy > y:
            rcy = max(ny, y)
            lcy = 2 * y - rcy
        elif rcy < ny and rcy < y:
            rcy = min(ny, y)
            lcy = 2 * y - rcy
        lc[i] = lcx, lcy
        rc[i] = rcx, rcy
    t = np.linspace(0, 1, n)[:, None]
    segs = []
    for i in range(1, N):
        p0 = np.array([xs[i - 1], ys[i - 1]])
        p3 = np.array([xs[i], ys[i]])
        c1, c2 = rc[i - 1], lc[i]
        seg = ((1 - t) ** 3) * p0 + 3 * ((1 - t) ** 2) * t * c1 + 3 * (1 - t) * (t ** 2) * c2 + (t ** 3) * p3
        segs.append(seg if i == 1 else seg[1:])
    out = np.vstack(segs)
    return out[:, 0], out[:, 1]


comma = FuncFormatter(lambda v, p: f"{v:,.0f}")
plain = FuncFormatter(lambda v, p: f"{v:.0f}")

# ---------------- panel frames ----------------

LX0, LX1, RX0, RX1 = 39, 676.5, 682, 1319.6
draw_box(LX0, 22.3, LX1, 411.7, "SHFE+COMEX+LBMA黄金库存合计", "同花顺,南华研究")
draw_box(RX0, 22.3, RX1, 411.7, "SHFE+SGX+COMEX+LBMA白银库存合计", "wind,同花顺,南华研究")
draw_box(LX0, 492.3, LX1, 881.7, "COMEX黄金每日交割量季节性", "彭博,南华研究")
draw_box(RX0, 492.3, RX1, 881.7, "COMEX白银每日交割量季节性", "彭博,南华研究")
draw_box(LX0, 900, LX1, 1289, "上海期货交易所黄金月度交割量季节性", "wind,南华研究")
draw_box(RX0, 900, RX1, 1289, "上海期货交易所白银月度交割量季节性", "wind,南华研究")
draw_box(LX0, 1307.3, LX1, 1696.7, "上海金交所黄金周度交割量季节性", "wind,南华研究")
draw_box(RX0, 1307.3, RX1, 1696.7, "上海金交所白银周度交割量季节性", "wind,南华研究")

fig.text(fx(40), fy(451.7), "5.4全球主要交易所交割", fontsize=22.5, fontweight="bold",
         color="#3a6ab4", va="center", ha="left")

# faint site watermark
fig.text(fx(1206), fy(1838), "华通白银网", fontsize=18.5, color="#eeeeee", va="center", ha="left",
         fontweight="bold")
fig.text(fx(1210), fy(1866), "www.ctbaiyin.com", fontsize=8.5, color="#eeeeee", va="center", ha="left")

# ---------------- inventory charts ----------------

inv_ticks = pd.to_datetime(["2017-12-01", "2019-12-01", "2021-12-01", "2023-12-01", "2025-12-01"])

ax1 = add_axes(94.5, 134.3, 664.4, 341)
sns.lineplot(x=pd.to_datetime([d for d, _ in gold_stock]), y=[v for _, v in gold_stock], ax=ax1,
             color=INV_RED, linewidth=1.7, drawstyle="steps-post", estimator=None)
ax1.set_xlim(pd.Timestamp("2016-06-01"), pd.Timestamp("2026-07-12"))
ax1.set_ylim(7565, 10845)
ax1.set_yticks([8000, 9000, 10000])
ax1.yaxis.set_major_formatter(plain)
ax1.set_xticks(inv_ticks)
ax1.xaxis.set_major_formatter(mdates.DateFormatter("%y/%m"))
style_axes(ax1, 0.5)
unit(49, 113, "吨")
single_legend(356, 117.3, "（SHFE+COMEX+LBMA）黄金库存合计")

ax2 = add_axes(738.5, 134.3, 1307.5, 341)
sns.lineplot(x=pd.to_datetime([d for d, _ in silver_stock]), y=[v for _, v in silver_stock], ax=ax2,
             color=INV_RED, linewidth=1.7, estimator=None)
ax2.set_xlim(pd.Timestamp("2016-06-01"), pd.Timestamp("2026-07-16"))
ax2.set_ylim(36350, 54350)
ax2.set_yticks([40000, 45000, 50000])
ax2.yaxis.set_major_formatter(plain)
ax2.set_xticks(inv_ticks)
ax2.xaxis.set_major_formatter(mdates.DateFormatter("%y/%m"))
style_axes(ax2, 0.5)
unit(692, 113, "吨")
single_legend(996.5, 117.3, "白银全球库存（SHFE+SGX+COMEX+LBMA）")

# ---------------- COMEX daily ----------------


def daily_panel(ax, series):
    for yr, pts, c in zip(years, series, year_colors):
        d = np.array(pts, dtype=float)
        sns.lineplot(x=d[:, 0], y=d[:, 1], ax=ax, color=c, linewidth=(2.6 if yr == "2026" else 1.6),
                     estimator=None)


ax3 = add_axes(109.7, 605, 664.4, 810.7)
daily_panel(ax3, [comex_gold_2022, comex_gold_2023, comex_gold_2024, comex_gold_2025, comex_gold_2026])
ax3.set_xlim(1.5, 364.5)
ax3.set_ylim(0, 34950)
ax3.set_yticks([0, 10000, 20000, 30000])
ax3.yaxis.set_major_formatter(comma)
ax3.set_xticks([90, 181, 273])
ax3.set_xticklabels(["04/01", "07/01", "10/01"])
style_axes(ax3, 8)
unit(48.6, 595.7, "盎司")
year_legend(358, 586.7)

ax4 = add_axes(742, 604.3, 1307.5, 810.7)
daily_panel(ax4, [comex_silver_2022, comex_silver_2023, comex_silver_2024, comex_silver_2025, comex_silver_2026])
ax4.set_xlim(1.7, 365)
ax4.set_ylim(0, 8090)
ax4.set_yticks([0, 2000, 4000, 6000, 8000])
ax4.yaxis.set_major_formatter(plain)
ax4.set_xticks([59, 120, 181, 243, 304])
ax4.set_xticklabels(["03/01", "05/01", "07/01", "09/01", "11/01"])
style_axes(ax4, 8)
unit(692, 595.7, "盎司")
year_legend(1000.4, 586.7)

# ---------------- SHFE monthly ----------------


def spline_panel(ax, series):
    for yr, (xs, ys), c in zip(years, series, year_colors):
        sx, sy = hc_spline(xs, ys)
        ax.plot(sx, sy, color=c, linewidth=(2.6 if yr == "2026" else 1.5), solid_capstyle="round")


ax5 = add_axes(137.9, 1012.3, 664.4, 1218.3)
spline_panel(ax5, [(month_days[:len(s)], s) for s in
                   [shfe_gold_2022, shfe_gold_2023, shfe_gold_2024, shfe_gold_2025, shfe_gold_2026]])
ax5.set_xlim(27, 364.5)
ax5.set_ylim(0, 16250000)
ax5.set_yticks([5000000, 10000000, 15000000])
ax5.yaxis.set_major_formatter(comma)
ax5.set_xticks([90, 181, 273])
ax5.set_xticklabels(["04/01", "07/01", "10/01"])
style_axes(ax5, 8)
unit(49, 1002.7, "克")
year_legend(358, 994.3)

ax6 = add_axes(772.4, 1012.3, 1307.5, 1219)
spline_panel(ax6, [(month_days[:len(s)], s) for s in
                   [shfe_silver_2022, shfe_silver_2023, shfe_silver_2024, shfe_silver_2025, shfe_silver_2026]])
ax6.set_xlim(25.6, 365)
ax6.set_ylim(0, 1475000)
ax6.set_yticks([500000, 1000000])
ax6.yaxis.set_major_formatter(comma)
ax6.set_xticks([90, 181, 273])
ax6.set_xticklabels(["04/01", "07/01", "10/01"])
style_axes(ax6, 8)
unit(693, 1002.7, "千克")
year_legend(1000.4, 994.3)

# ---------------- SGE weekly ----------------


def pairs(pts):
    d = np.array(pts, dtype=float)
    return d[:, 0], d[:, 1]


ax7 = add_axes(117, 1419, 664.4, 1626)
spline_panel(ax7, [pairs(s) for s in [sge_gold_2022, sge_gold_2023, sge_gold_2024, sge_gold_2025, sge_gold_2026]])
ax7.set_xlim(1.7, 364.5)
ax7.set_ylim(6700, 353600)
ax7.set_yticks([100000, 200000, 300000])
ax7.yaxis.set_major_formatter(comma)
ax7.set_xticks([90, 181, 273])
ax7.set_xticklabels(["04/01", "07/01", "10/01"])
style_axes(ax7, 8)
unit(49, 1409.3, "千克")
year_legend(358, 1401.7)

ax8 = add_axes(772.4, 1418.3, 1307.5, 1626)
spline_panel(ax8, [pairs(s) for s in
                   [sge_silver_2022, sge_silver_2023, sge_silver_2024, sge_silver_2025, sge_silver_2026]])
ax8.set_xlim(2.3, 364.5)
ax8.set_ylim(0, 2030000)
ax8.set_yticks([0, 500000, 1000000, 1500000, 2000000])
ax8.yaxis.set_major_formatter(comma)
ax8.set_xticks([90, 181, 273])
ax8.set_xticklabels(["04/01", "07/01", "10/01"])
style_axes(ax8, 8)
unit(693, 1408.3, "千克")
year_legend(1000.4, 1401.7)

fig.savefig("out.png", dpi=100)
